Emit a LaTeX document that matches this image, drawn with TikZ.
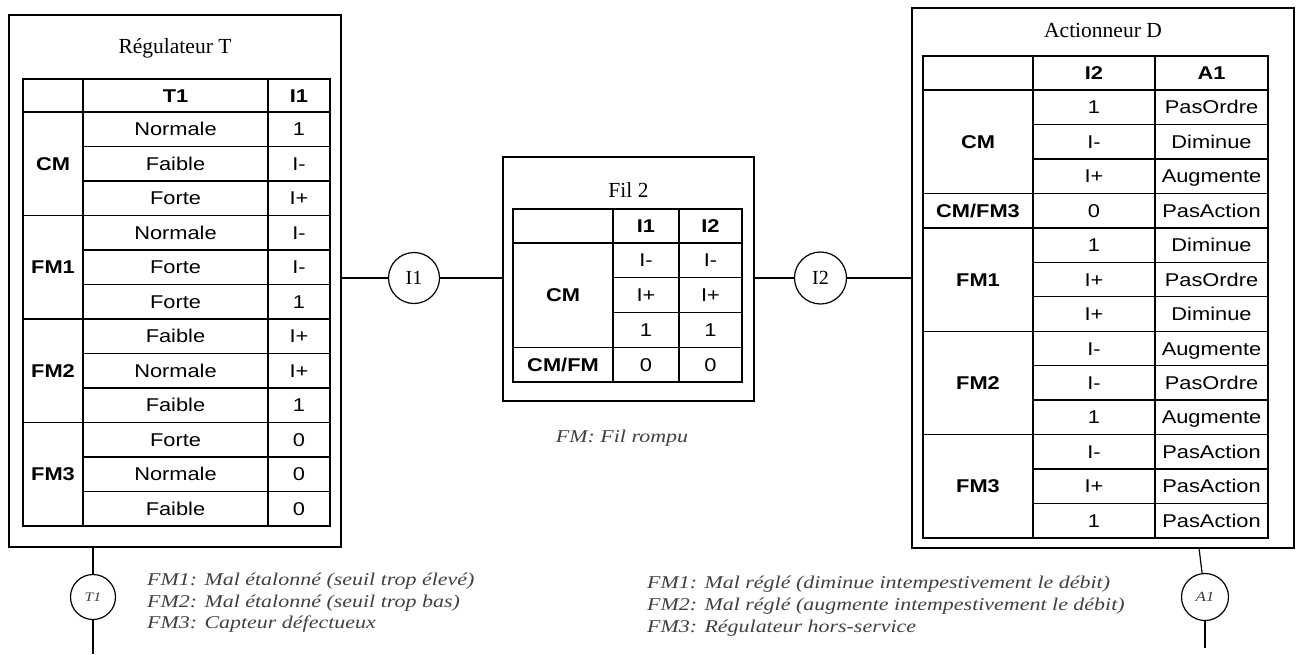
\documentclass[tikz,border=0pt]{standalone}
\usepackage{fontspec}
\setmainfont{Liberation Serif}
\newfontfamily\tabfont[FakeStretch=1.18]{Liberation Sans}
\newfontfamily\notefont[FakeStretch=1.22]{Liberation Serif}
\begin{document}
\begin{tikzpicture}[x=1pt,y=-1pt,
  tab/.style={line width=1.4pt},
  box/.style={draw, line width=1.2pt, inner sep=0pt},
  cell/.style={inner sep=0pt, text height=13.2pt, text depth=0pt, font=\tabfont\fontsize{18.5}{20}\selectfont},
  hcell/.style={cell, font=\tabfont\bfseries\fontsize{18.5}{20}\selectfont},
  title/.style={anchor=base, inner sep=0pt, font=\fontsize{21.5}{24}\selectfont},
  note/.style={anchor=base west, inner sep=0pt, text=black!75, font=\notefont\itshape\fontsize{18}{20}\selectfont},
  var/.style={circle, draw, line width=1.2pt, inner sep=0pt},
  conn/.style={line width=1.2pt}
]
\useasboundingbox (0,0) rectangle (1298,654);

% ---------------- Left box : Régulateur T
\node[box, minimum width=332pt, minimum height=532pt] (boxL) at (175,281) {};
\node[title] (tL) at (175,53) {Régulateur T};
\draw[tab] (23,79) rectangle (330,526);
\draw[tab] (83,79) -- (83,526) (268,79) -- (268,526) (23,112) -- (330,112);
\foreach \k in {1,...,11}{
  \pgfmathsetmacro\yy{112+\k*34.5}
  \draw[tab] (83,\yy) -- (330,\yy);
}
\foreach \yy in {215.5,319,422.5}{ \draw[tab] (23,\yy) -- (83,\yy); }
\node[hcell] (LhT) at (175.5,95.5) {T1};
\node[hcell] (LhI) at (299,95.5) {I1};
\foreach \a/\b [count=\i] in {Normale/1,Faible/I-,Forte/I+,Normale/I-,Forte/I-,Forte/1,Faible/I+,Normale/I+,Faible/1,Forte/0,Normale/0,Faible/0}{
  \pgfmathsetmacro\yy{112+(\i-0.5)*34.5}
  \node[cell] (La\i) at (175.5,\yy) {\a};
  \node[cell] (Lb\i) at (299,\yy) {\b};
}
\foreach \g/\r [count=\j] in {CM/1.5,FM1/4.5,FM2/7.5,FM3/10.5}{
  \pgfmathsetmacro\yy{112+\r*34.5}
  \node[hcell] (Lg\j) at (53,\yy) {\g};
}

% ---------------- Middle box : Fil 2
\node[box, minimum width=251pt, minimum height=244pt] (boxM) at (628.5,279) {};
\node[title] (tM) at (628.5,197) {Fil 2};
\draw[tab] (513,209) rectangle (742,382);
\draw[tab] (613,209) -- (613,382) (679,209) -- (679,382) (513,243) -- (742,243);
\foreach \k in {1,2}{
  \pgfmathsetmacro\yy{243+\k*34.75}
  \draw[tab] (613,\yy) -- (742,\yy);
}
\draw[tab] (513,347.25) -- (742,347.25);
\node[hcell] (MhA) at (646,226) {I1};
\node[hcell] (MhB) at (710.5,226) {I2};
\foreach \a/\b [count=\i] in {I-/I-,I+/I+,1/1,0/0}{
  \pgfmathsetmacro\yy{243+(\i-0.5)*34.75}
  \node[cell] (Ma\i) at (646,\yy) {\a};
  \node[cell] (Mb\i) at (710.5,\yy) {\b};
}
\node[hcell] (Mg1) at (563,295.1) {CM};
\node[hcell] (Mg2) at (563,364.6) {CM/FM};
\node[note, anchor=base] (fm) at (622,442) {FM: Fil rompu};

% ---------------- Right box : Actionneur D
\node[box, minimum width=382pt, minimum height=540pt] (boxR) at (1103,278) {};
\node[title] (tR) at (1103,37) {Actionneur D};
\draw[tab] (923,56) rectangle (1268,538);
\draw[tab] (1033,56) -- (1033,538) (1155,56) -- (1155,538) (923,90) -- (1268,90);
\foreach \k in {1,...,12}{
  \pgfmathsetmacro\yy{90+\k*34.46}
  \draw[tab] (1033,\yy) -- (1268,\yy);
}
\foreach \k in {3,4,7,10}{
  \pgfmathsetmacro\yy{90+\k*34.46}
  \draw[tab] (923,\yy) -- (1033,\yy);
}
\node[hcell] (RhA) at (1094,73) {I2};
\node[hcell] (RhB) at (1211.5,73) {A1};
\foreach \a/\b [count=\i] in {1/PasOrdre,I-/Diminue,I+/Augmente,0/PasAction,1/Diminue,I+/PasOrdre,I+/Diminue,I-/Augmente,I-/PasOrdre,1/Augmente,I-/PasAction,I+/PasAction,1/PasAction}{
  \pgfmathsetmacro\yy{90+(\i-0.5)*34.46}
  \node[cell] (Ra\i) at (1094,\yy) {\a};
  \node[cell] (Rb\i) at (1211.5,\yy) {\b};
}
\foreach \g/\r [count=\j] in {CM/1.5,CM\slash FM3/3.5,FM1/5.5,FM2/8.5,FM3/11.5}{
  \pgfmathsetmacro\yy{90+\r*34.46}
  \node[hcell] (Rg\j) at (978,\yy) {\g};
}

% ---------------- Variables and connectors
\node[var, minimum size=51pt, font=\fontsize{20}{22}\selectfont] (I1) at (414,278) {I1};
\node[var, minimum size=52pt, font=\fontsize{20}{22}\selectfont] (I2) at (820.5,278) {I2};
\draw[conn] (I1.west -| boxL.east) -- (I1);
\draw[conn] (I1) -- (I1.east -| boxM.west);
\draw[conn] (I2.west -| boxM.east) -- (I2);
\draw[conn] (I2) -- (I2.east -| boxR.west);

\node[var, minimum size=45pt, text=black!75, font=\notefont\itshape\fontsize{13}{14}\selectfont] (T1) at (93,597) {T1};
\coordinate (t1bot) at (93,654);
\draw[conn] (T1.north |- boxL.south) -- (T1);
\draw[conn] (T1) -- (t1bot);

\node[var, minimum size=47pt, text=black!75, font=\notefont\itshape\fontsize{14}{15}\selectfont] (A1) at (1205,597) {A1};
\coordinate (a1top) at (1199,548);
\coordinate (a1bot) at (1205,648);
\draw[conn] (a1top) -- (A1);
\draw[conn] (A1) -- (a1bot);

% ---------------- Notes
\node[note] (nL1) at (147,585) {FM1: Mal étalonné (seuil trop élevé)};
\node[note] (nL2) at (147,607) {FM2: Mal étalonné (seuil trop bas)};
\node[note] (nL3) at (147,628) {FM3: Capteur défectueux};
\node[note] (nR1) at (647,588) {FM1: Mal réglé (diminue intempestivement le débit)};
\node[note] (nR2) at (647,610) {FM2: Mal réglé (augmente intempestivement le débit)};
\node[note] (nR3) at (647,632) {FM3: Régulateur hors-service};
\end{tikzpicture}
\end{document}
